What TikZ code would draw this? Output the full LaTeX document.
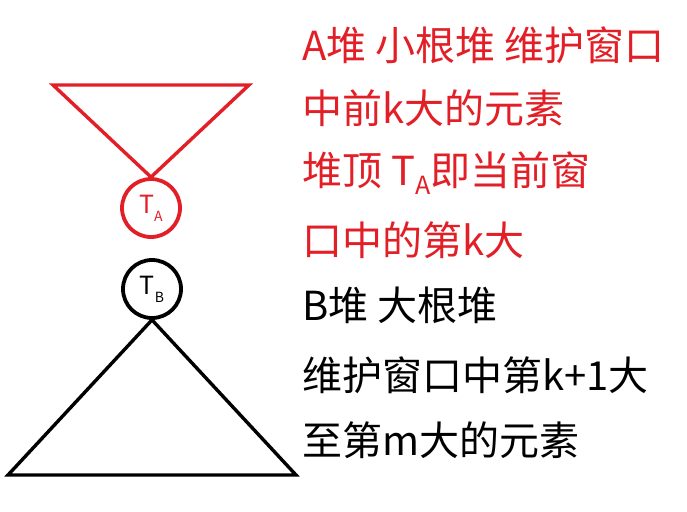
\documentclass[tikz,border=0pt]{standalone}
\usepackage{fontspec}
\setmainfont{Noto Sans CJK SC}
\definecolor{hred}{RGB}{226,30,38}
\begin{document}
\begin{tikzpicture}[x=1pt,y=-1pt,
  txt/.style={anchor=west,inner sep=0pt,font=\fontsize{40}{42}\selectfont},
  circ/.style={circle,draw,line width=3.8pt,minimum size=58pt,inner sep=0pt,font=\fontsize{25}{26}\selectfont},
  tri/.style={line width=3.4pt,line join=miter}]
\useasboundingbox (0,0) rectangle (687,511);
% red heap
\coordinate (a1) at (53,85);
\coordinate (a2) at (249,85);
\node[circ,draw=hred,text=hred] (ta) at (151,208) {T\raisebox{-0.6ex}{\fontsize{14}{15}\selectfont A}};
\draw[tri,hred] (a1) -- (a2) -- (ta.north) -- cycle;
% black heap
\node[circ,draw=black] (tb) at (152,289) {T\raisebox{-0.6ex}{\fontsize{14}{15}\selectfont B}};
\coordinate (b1) at (8,475);
\coordinate (b2) at (296,475);
\draw[tri,black] (tb.south) -- (b1) -- (b2) -- cycle;
% texts
\node[txt,text=hred] (l1) at (302,45) {A堆 小根堆 维护窗口};
\node[txt,text=hred] (l2) at (302,108) {中前k大的元素};
\node[txt,text=hred] (l3) at (302,173) {堆顶 T\raisebox{-0.45ex}{\fontsize{25}{26}\selectfont A}即当前窗};
\node[txt,text=hred] (l4) at (302,240) {口中的第k大};
\node[txt] (l5) at (302,305) {B堆 大根堆};
\node[txt] (l6) at (302,375) {维护窗口中第k+1大};
\node[txt] (l7) at (302,440) {至第m大的元素};
\end{tikzpicture}
\end{document}
